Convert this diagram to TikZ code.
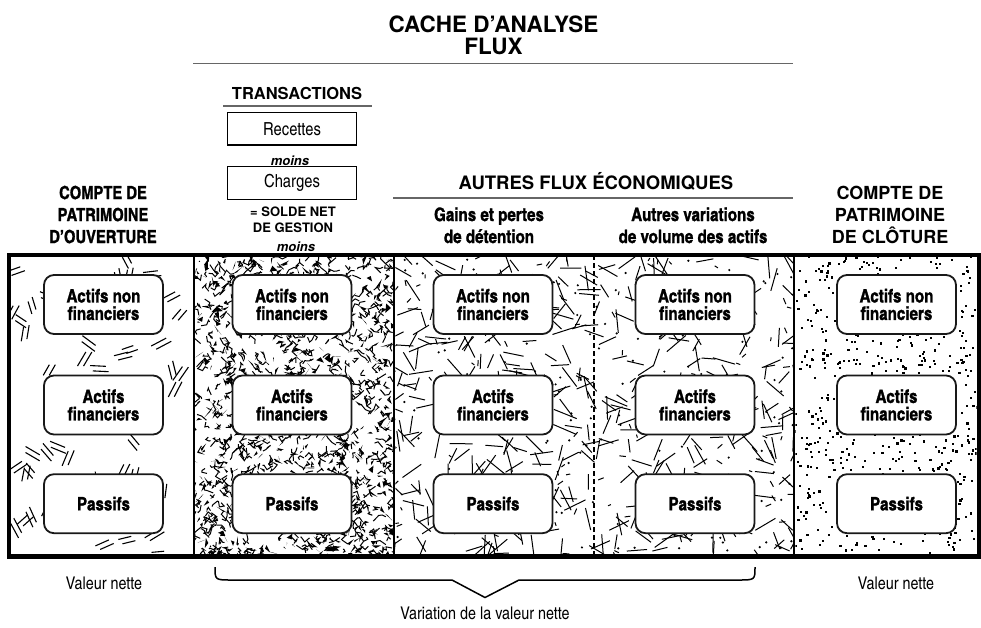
\documentclass[tikz,border=0pt]{standalone}
\usepackage{fontspec}
\setmainfont{TeX Gyre Heros}
\newfontfamily\cnf{texgyreheroscn}[Extension=.otf,UprightFont=*-regular,BoldFont=*-bold,ItalicFont=*-italic,BoldItalicFont=*-bolditalic]
\newfontfamily\cnh{texgyreheroscn}[Extension=.otf,UprightFont=*-bold,FakeBold=1.2]
\newcommand\fsz[2]{\fontsize{#1}{#2}\selectfont}
\tikzset{
 bx/.style={draw=black!90, line width=1.8pt, fill=white, rounded corners=10pt, minimum width=119pt, minimum height=59pt, inner sep=0pt, align=center, font=\cnh\bfseries\fsz{18.5}{17.5}},
 tbox/.style={draw, line width=1.3pt, fill=white, minimum width=129pt, minimum height=32.5pt, inner sep=0pt, font=\cnf\fsz{18}{20}},
 hdl/.style={anchor=base, inner sep=0pt, font=\cnh\bfseries\fsz{18}{22}},
 hdr/.style={anchor=base, inner sep=0pt, font=\bfseries\fsz{18}{22}},
 subh/.style={anchor=base, inner sep=0pt, font=\cnh\bfseries\fsz{18.5}{22}},
 moinsl/.style={anchor=base, inner sep=0pt, font=\bfseries\itshape\fsz{13}{15}},
 solde/.style={anchor=base, inner sep=0pt, font=\bfseries\fsz{13}{15}},
 regl/.style={anchor=base, inner sep=0pt, font=\cnf\fsz{17.5}{20}},
 rulel/.style={draw=black!60, line width=1.5pt},
}
\begin{document}
\begin{tikzpicture}[x=1pt,y=-1pt]
\useasboundingbox (0,0) rectangle (981,627);
\fill[white] (0,0) rectangle (981,627);
\pgfmathsetseed{7}
% ---- textures ----
% column 1 : double strokes
\begin{scope}
\clip (11,257.3) rectangle (192.7,554.3);
\foreach \i in {1,...,52}{
 \pgfmathsetmacro\px{11+rnd*182}
 \pgfmathsetmacro\py{257+rnd*298}
 \pgfmathsetmacro\ang{rnd*180}
 \pgfmathsetmacro\lenA{6+rnd*2.5}
 \draw[line width=1.1pt,shift={(\px,\py)},rotate=\ang] (-\lenA,-2.6) -- (\lenA,-2.6) (-\lenA+3,2.6) -- (\lenA+3,2.6);
}
\end{scope}
% column 2 : dense scribbles
\begin{scope}
\clip (194.7,257.3) rectangle (393.3,554.3);
\foreach \i in {1,...,850}{
 \pgfmathsetmacro\px{192+rnd*204}
 \pgfmathsetmacro\py{255+rnd*302}
 \draw[line width=1pt] (\px,\py) -- ++(rand*6,rand*6) -- ++(rand*5,rand*5) -- ++(rand*4,rand*4);
}
\foreach \i in {1,...,480}{
 \pgfmathsetmacro\px{192+rnd*204}
 \pgfmathsetmacro\py{255+rnd*302}
 \fill (\px,\py) -- ++(rand*6,rand*6) -- ++(rand*6,rand*6) -- cycle;
}
\end{scope}
% columns 3 and 4 : straight segments
\begin{scope}
\clip (395.3,257.3) rectangle (793.3,554.3);
\foreach \i in {1,...,430}{
 \pgfmathsetmacro\px{385+rnd*418}
 \pgfmathsetmacro\py{250+rnd*310}
 \pgfmathsetmacro\ang{rnd*360}
 \pgfmathsetmacro\lenA{13+rnd*12}
 \draw[line width=1pt] (\px,\py) -- ++(\ang:\lenA);
}
\foreach \i in {1,...,120}{
 \pgfmathsetmacro\px{393+rnd*402}
 \pgfmathsetmacro\py{255+rnd*302}
 \pgfmathsetmacro\ang{rnd*360}
 \pgfmathsetmacro\lenA{3+rnd*4}
 \draw[line width=1pt] (\px,\py) -- ++(\ang:\lenA);
}
\foreach \i in {1,...,150}{
 \pgfmathsetmacro\px{393+rnd*402}
 \pgfmathsetmacro\py{255+rnd*302}
 \fill (\px,\py) circle (1.2);
}
\end{scope}
% column 5 : dots
\begin{scope}
\clip (795.3,257.3) rectangle (976.5,554.3);
\foreach \i in {1,...,680}{
 \pgfmathsetmacro\px{794+rnd*184}
 \pgfmathsetmacro\py{255+rnd*302}
 \fill (\px,\py) rectangle ++(2.2,2.2);
}
\end{scope}
% ---- frame and dividers ----
\draw[line width=2pt] (193.7,255) -- (193.7,556);
\draw[line width=2pt] (394.3,255) -- (394.3,556);
\draw[line width=2pt] (794.3,255) -- (794.3,556);
\draw[line width=1.5pt, dash pattern=on 5pt off 3pt] (594,255) -- (594,556);
\draw[line width=4pt] (8.8,255.3) -- (978.5,255.3);
\draw[line width=4.5pt] (8.8,556.5) -- (978.5,556.5);
\draw[line width=4pt] (8.8,253.3) -- (8.8,558.7);
\draw[line width=4pt] (978.5,253.3) -- (978.5,558.7);
% ---- boxes ----
\foreach \c/\cx in {1/103.5,2/292,3/493,4/695,5/896.5}{
 \node[bx] (an\c) at (\cx,304.5) {Actifs non\\financiers};
 \node[bx] (af\c) at (\cx,405) {Actifs\\financiers};
 \node[bx] (pa\c) at (\cx,503.7) {Passifs};
}
% ---- titles ----
\node[anchor=base, inner sep=0pt, font=\bfseries\fsz{22.5}{26}] (t1) at (493.5,32) {CACHE D’ANALYSE};
\node[anchor=base, inner sep=0pt, font=\bfseries\fsz{22.5}{26}] (t2) at (493.5,54) {FLUX};
\draw[rulel] (193,63.5) -- (793,63.5);
\node[anchor=base, inner sep=0pt, font=\bfseries\fsz{16.5}{20}] (tr) at (297,99) {TRANSACTIONS};
\draw[rulel] (223,106) -- (372,106);
\node[tbox] (rec) at (292,128.7) {Recettes};
\node[moinsl] (m1) at (290,165) {moins};
\node[tbox] (cha) at (292,183) {Charges};
\node[solde] (s1) at (293,216.7) {= SOLDE NET};
\node[solde] (s2) at (293,232.3) {DE GESTION};
\node[moinsl] (m2) at (296,251.5) {moins};
\node[anchor=base, inner sep=0pt, font=\bfseries\fsz{18.5}{22}] (afe) at (596,189.3) {AUTRES FLUX ÉCONOMIQUES};
\draw[rulel] (393,198) -- (793,198);
\node[subh] (g1) at (489,221) {Gains et pertes};
\node[subh] (g2) at (489,243) {de détention};
\node[subh] (v1) at (693,221) {Autres variations};
\node[subh] (v2) at (693,243) {de volume des actifs};
\node[hdl] (l1) at (103,199) {COMPTE DE};
\node[hdl] (l2) at (103,221) {PATRIMOINE};
\node[hdl] (l3) at (103,243) {D’OUVERTURE};
\node[hdr] (r1) at (890,199) {COMPTE DE};
\node[hdr] (r2) at (890,221) {PATRIMOINE};
\node[hdr] (r3) at (890,243) {DE CLÔTURE};
% ---- bottom ----
\node[regl] (vn1) at (104,589) {Valeur nette};
\node[regl] (vn2) at (896,589) {Valeur nette};
\coordinate (bl) at (215,567);
\coordinate (br) at (755,567);
\coordinate (btip) at (485,597.5);
\draw[line width=1.5pt] (bl) .. controls (215,580) .. (232,580) -- (452,580) -- (btip) -- (519,580) -- (738,580) .. controls (755,580) .. (br);
\node[regl] (var) at (485,619) {Variation de la valeur nette};
\end{tikzpicture}
\end{document}
